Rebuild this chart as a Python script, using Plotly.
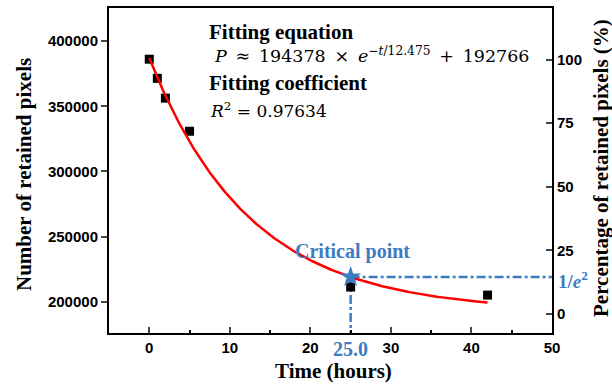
import numpy as np
import plotly.graph_objects as go

# Data
time_h = [0, 1, 2, 5, 25, 42]
pixels = [386200, 371500, 356300, 330900, 211300, 205100]
fit_A = 194378
fit_tau = 12.475
fit_C = 192766
crit_t = 25.0
x_ticks = [0, 10, 20, 30, 40, 50]
y_ticks = [200000, 250000, 300000, 350000, 400000]
y_ticklabels = ["200000", "250000", "300000", "350000", "400000"]
y2_ticks = [0, 25, 50, 75, 100]

blue = "#3d7cc0"
serif = "Liberation Serif"
sans = "Liberation Sans"

t_fit = np.linspace(0, 42, 200)
p_fit = fit_A * np.exp(-t_fit / fit_tau) + fit_C
crit_p = fit_A * np.exp(-2) + fit_C
crit_curve = fit_A * np.exp(-crit_t / fit_tau) + fit_C

fig = go.Figure()
fig.add_trace(go.Scatter(x=[crit_t, 50], y=[crit_p, crit_p], mode="lines",
                         line=dict(color=blue, width=2.5, dash="dashdot"), showlegend=False))
fig.add_trace(go.Scatter(x=[crit_t, crit_t], y=[crit_p, 176000], mode="lines",
                         line=dict(color=blue, width=2.5, dash="dashdot"), showlegend=False))
fig.add_trace(go.Scatter(x=time_h, y=pixels, mode="markers",
                         marker=dict(symbol="square", size=9, color="black"), showlegend=False))
fig.add_trace(go.Scatter(x=t_fit, y=p_fit, mode="lines",
                         line=dict(color="red", width=2.5), showlegend=False))
fig.add_trace(go.Scatter(x=[crit_t], y=[crit_curve], mode="markers",
                         marker=dict(symbol="star", size=16, color=blue), showlegend=False))
fig.add_trace(go.Scatter(x=[None], y=[None], yaxis="y2", showlegend=False))

tickfont = dict(family=sans, size=15, color="black", weight="bold")
fig.update_layout(
    width=612, height=387,
    margin=dict(l=109, r=60, t=8, b=54, autoexpand=False),
    plot_bgcolor="white", paper_bgcolor="white",
    xaxis=dict(range=[-5, 50], tickvals=x_ticks, ticks="inside", ticklen=6, tickwidth=2,
               showline=True, linewidth=2, linecolor="black", mirror=True,
               showgrid=False, zeroline=False, tickfont=tickfont, automargin=False,
               minor=dict(ticks="inside", dtick=5, ticklen=3, tickwidth=2, tickcolor="black", showgrid=False)),
    yaxis=dict(range=[176000, 425500], tickvals=y_ticks, ticktext=y_ticklabels,
               ticks="outside", ticklen=6, tickwidth=2,
               showline=True, linewidth=2, linecolor="black", automargin=False,
               showgrid=False, zeroline=False, tickfont=tickfont),
    yaxis2=dict(range=[-7.46, 120.3], tickvals=y2_ticks, ticks="inside", ticklen=6, tickwidth=2,
                overlaying="y", side="right", showline=True, linewidth=2, linecolor="black",
                showgrid=False, zeroline=False, tickfont=tickfont, automargin=False),
)


def px_to_paper(px, py):
    return (px - 109) / 443.0, (333 - py) / 325.0


title_font = dict(family=serif, size=21, color="black", weight="bold")
ann = [
    ("Number of retained pixels", 24, 175, -90),
    ("Percentage of retained pixels (%)", 601, 168, -90),
    ("Time (hours)", 333, 371, 0),
]
for txt, px, py, ang in ann:
    xp, yp = px_to_paper(px, py)
    fig.add_annotation(text=txt, x=xp, y=yp, xref="paper", yref="paper",
                       xanchor="center", yanchor="middle", showarrow=False,
                       textangle=ang, font=title_font)

sp = "\u2002"
texts = [
    ("Fitting equation", 207, 32, dict(family=serif, size=21, color="black", weight="bold")),
    (f"<i>P</i>{sp}≈{sp}194378{sp}×{sp}<i>e</i><sup>−<i>t</i>/12.475</sup>{sp}+{sp}192766", 212, 55,
     dict(family="DejaVu Serif", size=17.5, color="black")),
    ("Fitting coefficient", 207, 83, dict(family=serif, size=21, color="black", weight="bold")),
    ("<i>R</i><sup>2</sup> = 0.97634", 208, 110, dict(family="DejaVu Serif", size=17, color="black")),
]
for txt, px, py, f in texts:
    xp, yp = px_to_paper(px, py)
    fig.add_annotation(text=txt, x=xp, y=yp, xref="paper", yref="paper", xanchor="left",
                       yanchor="middle", showarrow=False, font=f)

fig.add_annotation(text="Critical point", x=25.2, y=238500, xref="x", yref="y", showarrow=False,
                   xanchor="center", yanchor="middle",
                   font=dict(family=serif, size=20, color=blue, weight="bold"))
xp, yp = px_to_paper(0, 349)
fig.add_annotation(text="25.0", x=crit_t, y=yp, xref="x", yref="paper", showarrow=False,
                   xanchor="center", yanchor="middle",
                   font=dict(family=serif, size=20, color=blue, weight="bold"))
xp, _ = px_to_paper(556, 0)
fig.add_annotation(text="1/<i>e</i><sup>2</sup>", x=xp, y=100 * np.exp(-2), xref="paper", yref="y2",
                   showarrow=False, xanchor="left", yanchor="middle",
                   font=dict(family=serif, size=19, color=blue, weight="bold"))

fig.write_html("out.html", config={"displayModeBar": False},
               post_script="document.body.style.margin='0';")
